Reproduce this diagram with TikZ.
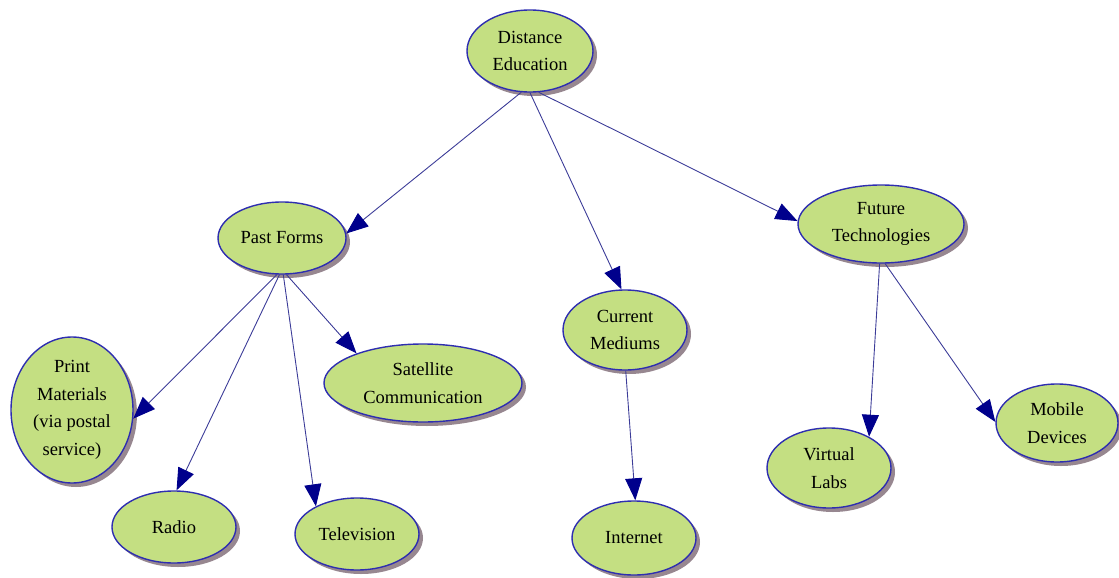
\documentclass[tikz,border=0pt]{standalone}
\usepackage{fontspec}
\setmainfont{Liberation Serif}
\usetikzlibrary{shapes.geometric,arrows.meta,shadows}
\definecolor{leaf}{HTML}{C4DF82}
\definecolor{rim}{HTML}{2E2EB0}
\definecolor{shade}{HTML}{8C7A84}
\definecolor{wire}{HTML}{3C3C98}
\definecolor{tip}{HTML}{00008C}
\begin{document}
\begin{tikzpicture}[x=1pt,y=-1pt,
  topic/.style={ellipse,draw=rim,line width=1.4pt,fill=leaf,inner sep=0pt,
    align=center,font=\fontsize{18.5}{27.5}\selectfont,
    drop shadow={shadow xshift=4pt,shadow yshift=-4pt,fill=shade,opacity=0.9}},
  link/.style={draw=wire,line width=0.9pt,
    -{Triangle[length=22pt,width=17pt,fill=tip,color=tip]}}]
\useasboundingbox (0,0) rectangle (1119,578);

% nodes
\node[topic,minimum width=126pt,minimum height=82pt] (de) at (530,51) {Distance\\Education};
\node[topic,minimum width=128pt,minimum height=72pt] (pf) at (282,238) {Past Forms};
\node[topic,minimum width=124pt,minimum height=80pt] (cm) at (625,330) {Current\\Mediums};
\node[topic,minimum width=166pt,minimum height=78pt] (ft) at (881,224) {Future\\Technologies};
\node[topic,minimum width=122pt,minimum height=146pt] (pm) at (72,410) {Print\\Materials\\(via postal\\service)};
\node[topic,minimum width=124pt,minimum height=72pt] (ra) at (174,527) {Radio};
\node[topic,minimum width=124pt,minimum height=72pt] (tv) at (357,534) {Television};
\node[topic,minimum width=198pt,minimum height=78pt] (sc) at (423,383) {Satellite\\Communication};
\node[topic,minimum width=124pt,minimum height=74pt] (in) at (634,538) {Internet};
\node[topic,minimum width=124pt,minimum height=80pt] (vl) at (829,468) {Virtual\\Labs};
\node[topic,minimum width=122pt,minimum height=78pt] (md) at (1057,423) {Mobile\\Devices};

% connectors
\draw[link] (de.258) -- (pf.4);
\draw[link] (de.270) -- (cm.95);
\draw[link] (de.282) -- (ft.178);
\draw[link] (pf.262) -- (pm.352);
\draw[link] (pf.266) -- (ra.86);
\draw[link] (pf.272) -- (tv.146);
\draw[link] (pf.277) -- (sc.156);
\draw[link] (cm.271) -- (in.88);
\draw[link] (ft.268) -- (vl.38);
\draw[link] (ft.276) -- (md.179);
\end{tikzpicture}
\end{document}
